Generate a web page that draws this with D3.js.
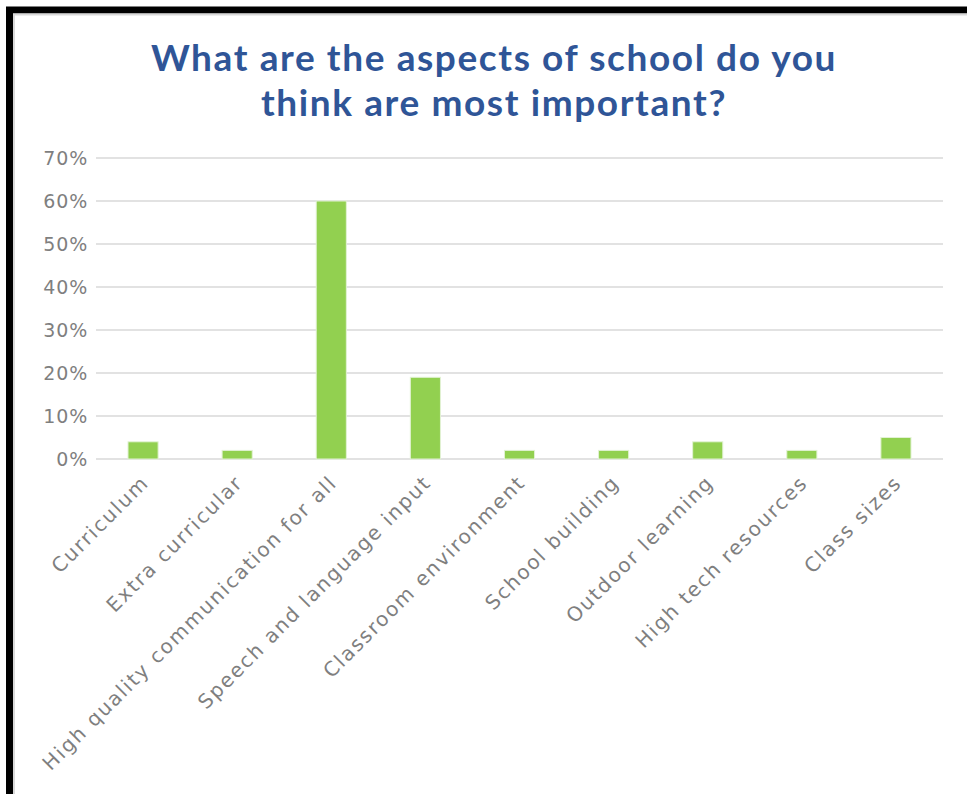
<!DOCTYPE html>
<html>
<head>
<meta charset="utf-8">
<script src="https://cdn.jsdelivr.net/npm/d3@7"></script>
<style>
  body { margin: 0; background: #fff; }
  svg { display: block; }
</style>
</head>
<body>
<svg id="chart" width="967" height="794"></svg>
<script>
// categories and values (share of responses)
const categories = [
  'Curriculum',
  'Extra curricular',
  'High quality communication for all',
  'Speech and language input',
  'Classroom environment',
  'School building',
  'Outdoor learning',
  'High tech resources',
  'Class sizes'
];
const values = [0.04, 0.02, 0.60, 0.19, 0.02, 0.02, 0.04, 0.02, 0.05];
const yTicks = [0, 0.1, 0.2, 0.3, 0.4, 0.5, 0.6, 0.7];
const titleLines = ['What are the aspects of school do you', 'think are most important?'];

const svg = d3.select('#chart');
const plotLeft = 96, plotRight = 943, plotTop = 158, plotBottom = 459;

// frame: thick black edge top/left, thin grey inside
svg.append('rect').attr('x', 0).attr('y', 0).attr('width', 967).attr('height', 794).attr('fill', '#fff');
svg.append('path')
    .attr('d', 'M9.5,794 V10 H967')
    .attr('fill', 'none').attr('stroke', '#000').attr('stroke-width', 7);
svg.append('path')
    .attr('d', 'M14,794 V14.5 H967')
    .attr('fill', 'none').attr('stroke', '#d9d9d9').attr('stroke-width', 2);

const x = d3.scaleBand().domain(categories).range([plotLeft, plotRight]).paddingInner(0.68).paddingOuter(0.34);
const y = d3.scaleLinear().domain([0, 0.7]).range([plotBottom, plotTop]);

// title
svg.append('g').selectAll('text')
  .data(titleLines)
  .join('text')
    .attr('x', 494)
    .attr('y', (d, i) => 71 + i * 45)
    .attr('text-anchor', 'middle')
    .attr('font-family', 'Lato, sans-serif')
    .attr('font-weight', 'bold')
    .attr('font-size', 37)
    .attr('letter-spacing', 1.6)
    .attr('fill', '#2f5597')
    .text(d => d);

// gridlines
svg.append('g').selectAll('line')
  .data(yTicks)
  .join('line')
    .attr('x1', plotLeft).attr('x2', plotRight)
    .attr('y1', d => y(d)).attr('y2', d => y(d))
    .attr('stroke', '#d9d9d9').attr('stroke-width', 1.5);

// y axis labels
const yAxis = svg.append('g')
    .attr('transform', `translate(${plotLeft},0)`)
    .call(d3.axisLeft(y).tickValues(yTicks).tickFormat(d3.format('.0%')).tickSize(0).tickPadding(8));
yAxis.select('.domain').remove();
yAxis.selectAll('text')
    .attr('font-family', 'DejaVu Sans, sans-serif')
    .attr('font-size', 19)
    .attr('letter-spacing', 0.8)
    .attr('fill', '#7f7f7f');

// bars
svg.append('g').selectAll('rect')
  .data(values)
  .join('rect')
    .attr('x', (d, i) => x(categories[i]))
    .attr('y', d => y(d))
    .attr('width', x.bandwidth())
    .attr('height', d => y(0) - y(d))
    .attr('fill', '#92d050')
    .attr('stroke', '#e2f2d4').attr('stroke-width', 1);

// category labels
svg.append('g').selectAll('text')
  .data(categories)
  .join('text')
    .attr('transform', d => `translate(${x(d) + x.bandwidth() / 2 + 7},484) rotate(-45)`)
    .attr('text-anchor', 'end')
    .attr('font-family', 'DejaVu Sans, sans-serif')
    .attr('font-size', 20)
    .attr('letter-spacing', 1.8)
    .attr('fill', '#7f7f7f')
    .text(d => d);
</script>
</body>
</html>
